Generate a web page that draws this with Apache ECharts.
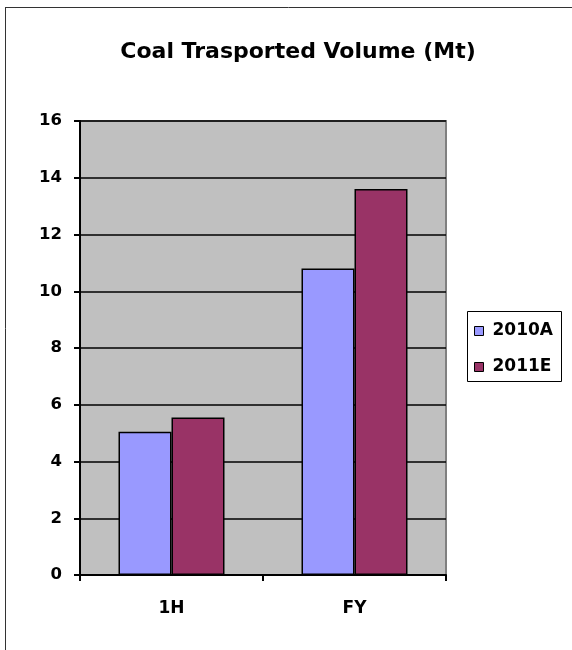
<!DOCTYPE html>
<html>
<head>
<meta charset="utf-8">
<script src="https://cdn.jsdelivr.net/npm/echarts@6/dist/echarts.min.js"></script>
<style>
  html, body { margin: 0; padding: 0; background: #fff; }
  #chart { width: 572px; height: 650px; }
</style>
</head>
<body>
<div id="chart"></div>
<script>
// Coal transported volume, million tonnes
const categories = ['1H', 'FY'];
const series2010A = [5.05, 10.8];
const series2011E = [5.55, 13.6];
const yTicks = [0, 2, 4, 6, 8, 10, 12, 14, 16];

const FONT = '"DejaVu Sans", Verdana, sans-serif';

const chart = echarts.init(document.getElementById('chart'), null, { renderer: 'canvas' });

const barStyle = (color) => ({
  color: color,
  borderColor: '#000',
  borderWidth: 1.5
});

chart.setOption({
  animation: false,
  backgroundColor: '#fff',
  title: {
    text: 'Coal Trasported Volume (Mt)',
    left: 293,
    top: 36,
    textAlign: 'center',
    textStyle: { fontFamily: FONT, fontWeight: 'bold', fontSize: 22, color: '#000' }
  },
  legend: {
    orient: 'vertical',
    left: 474,
    top: 321,
    padding: 0,
    itemGap: 16,
    itemWidth: 9,
    itemHeight: 9,
    icon: 'rect',
    textStyle: { fontFamily: FONT, fontWeight: 'bold', fontSize: 17, lineHeight: 20, color: '#000', padding: [0, 0, 0, 4] },
    itemStyle: { borderColor: '#000', borderWidth: 1 },
    data: ['2010A', '2011E']
  },
  grid: {
    left: 80,
    top: 121,
    right: 126,
    bottom: 75,
    show: true,
    backgroundColor: '#C0C0C0',
    borderColor: '#808080',
    borderWidth: 2
  },
  xAxis: {
    type: 'category',
    data: categories,
    axisLine: { show: true, lineStyle: { color: '#000', width: 2 } },
    axisTick: { show: true, alignWithLabel: false, length: 6, inside: false, lineStyle: { color: '#000', width: 2 } },
    axisLabel: { fontFamily: FONT, fontWeight: 'bold', fontSize: 17, color: '#000', margin: 25 },
    splitLine: { show: false }
  },
  yAxis: {
    type: 'value',
    min: yTicks[0],
    max: yTicks[yTicks.length - 1],
    interval: 2,
    axisLine: { show: true, lineStyle: { color: '#000', width: 2 } },
    axisTick: { show: true, length: 6, lineStyle: { color: '#000', width: 2 } },
    axisLabel: { fontFamily: FONT, fontWeight: 'bold', fontSize: 16.5, color: '#000', margin: 18 },
    splitLine: { show: true, lineStyle: { color: '#000', width: 1.5 } }
  },
  series: [
    {
      name: '2010A',
      type: 'bar',
      data: series2010A,
      barWidth: 53,
      barGap: '0%',
      itemStyle: barStyle('#9999FF')
    },
    {
      name: '2011E',
      type: 'bar',
      data: series2011E,
      barWidth: 53,
      barGap: '0%',
      itemStyle: barStyle('#993366')
    }
  ],
  graphic: [
    // outer frame (left and top edges)
    { type: 'line', shape: { x1: 5.5, y1: 7, x2: 5.5, y2: 650 }, style: { stroke: '#333', lineWidth: 1 } },
    { type: 'line', shape: { x1: 5, y1: 7.5, x2: 572, y2: 7.5 }, style: { stroke: '#333', lineWidth: 1 } },
    // legend frame
    { type: 'rect', shape: { x: 467.5, y: 311.5, width: 94, height: 70 }, style: { fill: 'none', stroke: '#000', lineWidth: 1 }, z: 1 }
  ]
});
</script>
</body>
</html>
